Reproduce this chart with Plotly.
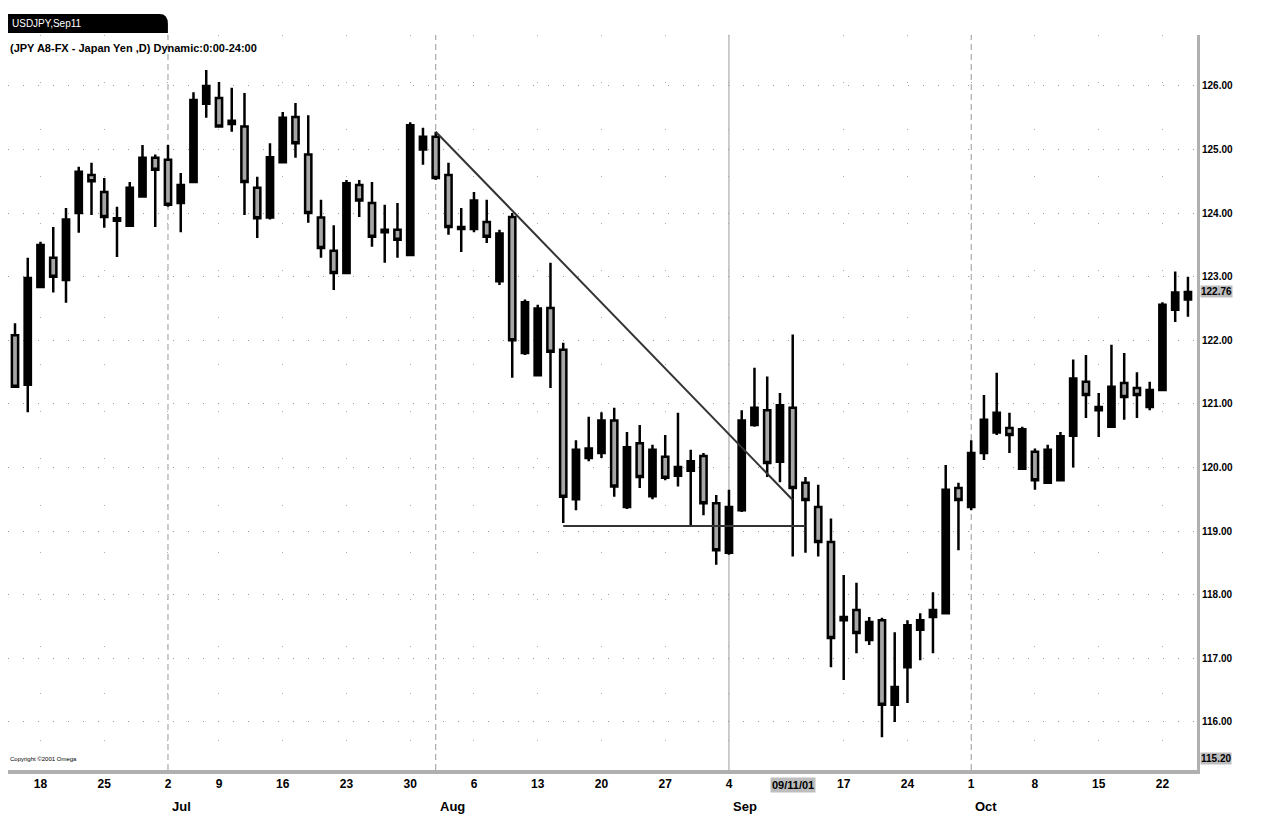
import plotly.graph_objects as go

dates = [
    "2001-06-14", "2001-06-15", "2001-06-18", "2001-06-19", "2001-06-20", "2001-06-21", "2001-06-22",
    "2001-06-25", "2001-06-26", "2001-06-27", "2001-06-28", "2001-06-29",
    "2001-07-02", "2001-07-03", "2001-07-05", "2001-07-06", "2001-07-09", "2001-07-10", "2001-07-11",
    "2001-07-12", "2001-07-13", "2001-07-16", "2001-07-17", "2001-07-18", "2001-07-19", "2001-07-20",
    "2001-07-23", "2001-07-24", "2001-07-25", "2001-07-26", "2001-07-27", "2001-07-30", "2001-07-31",
    "2001-08-01", "2001-08-02", "2001-08-03", "2001-08-06", "2001-08-07", "2001-08-08", "2001-08-09",
    "2001-08-10", "2001-08-13", "2001-08-14", "2001-08-15", "2001-08-16", "2001-08-17", "2001-08-20",
    "2001-08-21", "2001-08-22", "2001-08-23", "2001-08-24", "2001-08-27", "2001-08-28", "2001-08-29",
    "2001-08-30", "2001-08-31",
    "2001-09-04", "2001-09-05", "2001-09-06", "2001-09-07", "2001-09-10", "2001-09-11", "2001-09-12",
    "2001-09-13", "2001-09-14", "2001-09-17", "2001-09-18", "2001-09-19", "2001-09-20", "2001-09-21",
    "2001-09-24", "2001-09-25", "2001-09-26", "2001-09-27", "2001-09-28",
    "2001-10-01", "2001-10-02", "2001-10-03", "2001-10-04", "2001-10-05", "2001-10-08", "2001-10-09",
    "2001-10-10", "2001-10-11", "2001-10-12", "2001-10-15", "2001-10-16", "2001-10-17", "2001-10-18",
    "2001-10-19", "2001-10-22", "2001-10-23", "2001-10-24",
]

opens = [
    122.08, 121.30, 122.84, 123.30, 122.95, 124.00, 124.60, 124.33, 123.88, 123.80, 124.26, 124.87,
    124.84, 124.16, 124.49, 125.72, 125.81, 125.40, 125.36, 124.40, 123.93, 124.80, 125.51, 124.92,
    123.93, 123.41, 123.06, 124.44, 124.16, 123.70, 123.74, 123.34, 125.00,
    125.20, 124.60, 123.75, 123.75, 123.86, 122.93, 123.94, 121.80, 121.45, 122.51, 121.85, 119.50,
    120.15, 120.23, 120.74, 119.38, 120.38, 119.55, 120.17, 119.87, 119.95, 120.18, 119.44,
    118.66, 119.33, 120.67, 120.90, 120.09, 120.94, 119.76, 119.38, 118.83, 117.60, 117.76, 117.29,
    117.60, 116.27, 116.86, 117.45, 117.65, 117.71, 119.68,
    119.38, 120.23, 120.55, 120.62, 119.98, 120.25, 119.76, 119.80, 120.50, 121.35, 120.90, 120.64,
    121.33, 121.25, 120.95, 121.22, 122.48, 122.64,
]
highs = [
    122.27, 123.30, 123.55, 123.78, 124.08, 124.73, 124.79, 124.55, 124.10, 124.49, 125.07, 124.92,
    125.07, 124.63, 125.90, 126.25, 126.06, 125.97, 125.89, 124.57, 125.10, 125.59, 125.73, 125.54,
    124.21, 123.81, 124.52, 124.52, 124.49, 124.13, 124.16, 125.43, 125.34,
    125.28, 124.79, 124.08, 124.33, 124.21, 123.74, 124.00, 122.64, 122.56, 123.22, 121.96, 120.43,
    120.80, 120.87, 120.94, 120.56, 120.67, 120.36, 120.51, 120.86, 120.28, 120.23, 119.57,
    119.65, 120.90, 121.57, 121.43, 121.17, 122.09, 119.85, 119.73, 119.20, 118.31, 118.19, 117.65,
    117.64, 117.41, 117.60, 117.71, 118.04, 120.04, 119.76,
    120.43, 121.14, 121.49, 120.86, 120.64, 120.30, 120.36, 120.56, 121.70, 121.77, 121.17, 121.93,
    121.80, 121.50, 121.35, 122.60, 123.08, 123.00,
]
lows = [
    121.25, 120.87, 122.82, 122.75, 122.59, 123.69, 123.97, 123.77, 123.31, 123.78, 124.24, 123.78,
    124.10, 123.70, 124.47, 125.50, 125.34, 125.28, 123.97, 123.61, 123.90, 124.78, 124.87, 123.85,
    123.30, 122.79, 123.04, 123.94, 123.47, 123.22, 123.30, 123.32, 124.76,
    124.52, 123.66, 123.39, 123.70, 123.53, 122.87, 121.41, 121.77, 121.43, 121.25, 119.13, 119.33,
    120.10, 120.15, 119.54, 119.35, 119.68, 119.50, 119.80, 119.70, 119.08, 119.25, 118.47,
    118.63, 119.30, 120.64, 119.85, 119.77, 118.60, 118.66, 118.60, 116.86, 116.66, 117.08, 117.21,
    115.76, 116.00, 116.30, 116.97, 117.08, 117.69, 118.70,
    119.33, 120.12, 120.51, 120.23, 119.96, 119.65, 119.74, 119.78, 120.00, 120.78, 120.48, 120.62,
    120.75, 120.78, 120.90, 121.20, 122.29, 122.37,
]
closes = [
    121.27, 122.98, 123.50, 123.00, 123.90, 124.65, 124.50, 123.94, 123.92, 124.40, 124.87, 124.68,
    124.13, 124.44, 125.78, 126.00, 125.36, 125.45, 124.49, 123.92, 124.88, 125.50, 125.10, 124.00,
    123.45, 123.06, 124.47, 124.20, 123.63, 123.74, 123.58, 125.38, 125.20,
    124.55, 123.78, 123.78, 124.20, 123.63, 123.68, 122.00, 122.60, 122.50, 121.82, 119.54, 120.28,
    120.30, 120.74, 119.70, 120.32, 119.85, 120.28, 119.84, 120.01, 120.10, 119.44, 118.70,
    119.38, 120.74, 120.94, 120.07, 120.98, 119.68, 119.49, 118.83, 117.32, 117.65, 117.40, 117.57,
    116.27, 116.55, 117.52, 117.60, 117.76, 119.65, 119.49,
    120.23, 120.75, 120.86, 120.51, 120.60, 119.80, 120.28, 120.49, 121.40, 121.14, 120.95, 121.27,
    121.11, 121.14, 121.22, 122.56, 122.75, 122.76,
]

# trendline and support line drawn on the chart
trend_x = ["2001-08-01", "2001-09-11"]
trend_y = [125.28, 119.49]
support_x = ["2001-08-15", "2001-09-12"]
support_y = [119.08, 119.08]

# axis labels
week_ticks = ["2001-06-18", "2001-06-25", "2001-07-02", "2001-07-09", "2001-07-16", "2001-07-23",
              "2001-07-30", "2001-08-06", "2001-08-13", "2001-08-20", "2001-08-27", "2001-09-04",
              "2001-09-17", "2001-09-24", "2001-10-01", "2001-10-08", "2001-10-15", "2001-10-22"]
week_labels = ["18", "25", "2", "9", "16", "23", "30", "6", "13", "20", "27", "4",
               "17", "24", "1", "8", "15", "22"]
month_starts = ["2001-07-02", "2001-08-01", "2001-09-04", "2001-10-01"]
month_labels = ["Jul", "Aug", "Sep", "Oct"]
price_ticks = [116, 117, 118, 119, 120, 121, 122, 123, 124, 125, 126]
last_price = 122.76
low_label = "115.20"
crosshair_date = "2001-09-11"
crosshair_label = "09/11/01"

FONT = "Liberation Sans"

fig = go.Figure()
fig.add_trace(go.Candlestick(
    x=dates, open=opens, high=highs, low=lows, close=closes,
    increasing=dict(line=dict(color="#000000", width=2.5), fillcolor="#000000"),
    decreasing=dict(line=dict(color="#000000", width=2.5), fillcolor="#a6a6a6"),
    whiskerwidth=0, showlegend=False, hoverinfo="skip",
))
fig.add_trace(go.Scatter(x=trend_x, y=trend_y, mode="lines",
                         line=dict(color="#333333", width=2), showlegend=False, hoverinfo="skip"))
fig.add_trace(go.Scatter(x=support_x, y=support_y, mode="lines",
                         line=dict(color="#333333", width=2), showlegend=False, hoverinfo="skip"))

shapes = []
for i, d in enumerate(month_starts):
    idx = dates.index(d)
    shapes.append(dict(type="line", xref="x", yref="paper", x0=idx, x1=idx, y0=0, y1=1.0,
                       line=dict(color="#999999", width=1, dash="solid" if i == 2 else "6px,4px"),
                       layer="below"))
# title tab
shapes.append(dict(type="path", xref="paper", yref="paper",
                   path="M 0 1.0027 L 0 1.0286 L 0.1275 1.0286 Q 0.1345 1.0286 0.1345 1.015 L 0.1345 1.0027 Z",
                   fillcolor="#000000", line=dict(width=0)))

annotations = [
    dict(text="USDJPY,Sep11", xref="paper", yref="paper", x=0.002, y=1.016, xanchor="left",
         yanchor="middle", showarrow=False, font=dict(color="white", size=10, family=FONT)),
    dict(text="<b>(JPY A8-FX - Japan Yen ,D) Dynamic:0:00-24:00</b>", xref="paper", yref="paper",
         x=0.0, y=0.982, xanchor="left", yanchor="middle", showarrow=False,
         font=dict(color="black", size=11, family=FONT)),
    dict(text="Copyright ©2001 Omega", xref="paper", yref="paper", x=0.0, y=0.008,
         xanchor="left", yanchor="bottom", showarrow=False,
         font=dict(color="black", size=6, family=FONT)),
    dict(text="<b>%.2f</b>" % last_price, xref="paper", yref="y", x=1.0, y=last_price,
         xanchor="left", yanchor="middle", xshift=3, showarrow=False, bgcolor="#bdbdbd",
         font=dict(color="black", size=10, family=FONT), borderpad=0),
    dict(text="<b>%s</b>" % low_label, xref="paper", yref="paper", x=1.0, y=0.015,
         xanchor="left", yanchor="middle", xshift=3, showarrow=False, bgcolor="#bdbdbd",
         font=dict(color="black", size=10, family=FONT), borderpad=0),
    dict(text="<b>%s</b>" % crosshair_label, xref="x", yref="paper",
         x=dates.index(crosshair_date), y=-0.021, xanchor="center", yanchor="middle",
         showarrow=False, bgcolor="#bdbdbd", font=dict(color="black", size=11, family=FONT),
         borderpad=1),
]
for d, m in zip(month_starts, month_labels):
    annotations.append(dict(text="<b>%s</b>" % m, xref="x", yref="paper", x=dates.index(d),
                            y=-0.049, xanchor="left", yanchor="middle", xshift=2, showarrow=False,
                            font=dict(color="black", size=13, family=FONT)))

fig.update_layout(
    width=1256, height=809,
    margin=dict(l=0, r=67, t=27, b=47, autoexpand=False),
    paper_bgcolor="white", plot_bgcolor="white",
    shapes=shapes, annotations=annotations,
    xaxis=dict(type="category", range=[-0.549, 92.71], rangeslider=dict(visible=False),
               automargin=False,
               tickmode="array", tickvals=week_ticks,
               ticktext=["<b>%s</b>" % t for t in week_labels],
               tickfont=dict(color="black", size=12, family=FONT),
               showgrid=True, gridcolor="#aaaaaa", gridwidth=1, griddash="1px,46px",
               showline=True, linecolor="#b0b0b0", linewidth=4, ticks="", zeroline=False),
    yaxis=dict(side="right", range=[115.245, 126.80], tickmode="array", tickvals=price_ticks,
               automargin=False,
               ticktext=["<b>%.2f</b>" % v for v in price_ticks],
               tickfont=dict(color="black", size=10, family=FONT),
               showgrid=True, gridcolor="#999999", gridwidth=1, griddash="1px,14px",
               showline=True, linecolor="#b0b0b0", linewidth=3, ticks="", zeroline=False),
)

fig.write_html("out.html")
